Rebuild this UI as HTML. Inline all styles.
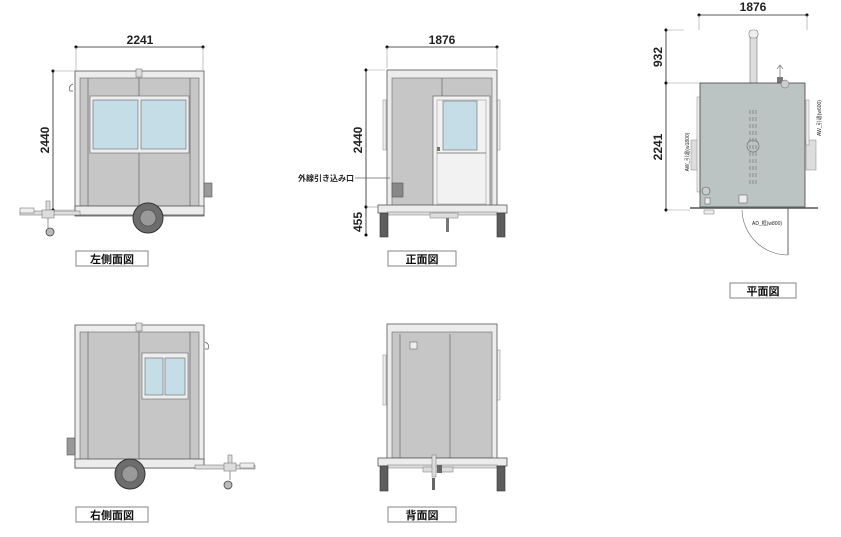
<!DOCTYPE html>
<html><head><meta charset="utf-8"><style>
html,body{margin:0;padding:0;background:#fff;}
svg{display:block;}
text{font-family:"Liberation Sans","Noto Sans CJK JP",sans-serif;}
.dim{stroke:#222;stroke-width:0.8;fill:none;}
.ext{stroke:#999;stroke-width:0.6;}
.fr{fill:#ececec;stroke:#555;stroke-width:0.8;}
.wl{fill:#c6c6c6;stroke:#666;stroke-width:0.6;}
.gl{fill:#c4dde6;stroke:#666;stroke-width:0.6;}
.ln{stroke:#666;stroke-width:0.7;}
.lbl{fill:#fff;stroke:#666;stroke-width:0.8;}
.big{font-size:12px;font-weight:bold;fill:#222;}
.cap{font-size:11px;font-weight:bold;fill:#111;}
.tiny{font-size:5px;fill:#222;}
</style></head><body>
<svg width="841" height="537" viewBox="0 0 841 537" xmlns="http://www.w3.org/2000/svg">

<!-- ===== LEFT SIDE VIEW ===== -->
<g>
<line class="dim" x1="76" y1="47" x2="203" y2="47"/>
<circle cx="76" cy="47" r="1.5"/><circle cx="203" cy="47" r="1.5"/>
<line class="ext" x1="76" y1="47" x2="76" y2="70"/><line class="ext" x1="203" y1="47" x2="203" y2="70"/>
<text class="big" x="140" y="44" text-anchor="middle">2241</text>
<line class="dim" x1="53" y1="71" x2="53" y2="210"/>
<circle cx="53" cy="71" r="1.5"/><circle cx="53" cy="210" r="1.5"/>
<line class="ext" x1="53" y1="71" x2="75" y2="71"/><line class="ext" x1="53" y1="210" x2="75" y2="210"/>
<text class="big" transform="translate(49,140) rotate(-90)" text-anchor="middle">2440</text>
<path d="M73 84 q-5 2 -3 7 h3" fill="none" stroke="#555" stroke-width="0.7"/>
<rect class="fr" x="75" y="71" width="129" height="145"/>
<rect class="wl" x="80" y="78" width="119" height="128"/>
<rect x="136" y="69" width="6" height="8" fill="#ddd" stroke="#666" stroke-width="0.5"/>
<line class="ln" x1="88" y1="78" x2="88" y2="206"/><line class="ln" x1="139" y1="78" x2="139" y2="206"/><line class="ln" x1="190" y1="78" x2="190" y2="206"/>
<rect x="90" y="96" width="99" height="57" fill="#eee" stroke="#666" stroke-width="0.6"/>
<rect class="gl" x="93" y="100" width="45" height="49"/><rect class="gl" x="141" y="100" width="45" height="49"/>
<rect x="204" y="183" width="8" height="14" fill="#999" stroke="#555" stroke-width="0.6"/>
<rect class="fr" x="75" y="206" width="129" height="9"/>
<rect x="20" y="211" width="60" height="4" fill="#ddd" stroke="#666" stroke-width="0.5"/>
<rect x="20" y="208" width="14" height="5" fill="#eee" stroke="#666" stroke-width="0.5"/>
<rect x="46" y="201" width="4" height="12" fill="#ddd" stroke="#666" stroke-width="0.5"/>
<rect x="42" y="210" width="12" height="8" fill="#ddd" stroke="#666" stroke-width="0.5"/>
<circle cx="50" cy="232" r="4" fill="#bbb" stroke="#444" stroke-width="0.8"/>
<line class="ln" x1="48" y1="218" x2="48" y2="228"/>
<circle cx="148" cy="218" r="15" fill="#6d6d6d" stroke="#333"/>
<circle cx="148" cy="218" r="8" fill="#999" stroke="#444" stroke-width="0.6"/>
<rect class="lbl" x="76" y="251" width="72" height="15"/>
<text class="cap" x="112" y="263" text-anchor="middle">左側面図</text>
</g>

<!-- ===== FRONT VIEW ===== -->
<g>
<line class="dim" x1="387" y1="47" x2="497" y2="47"/>
<circle cx="387" cy="47" r="1.5"/><circle cx="497" cy="47" r="1.5"/>
<line class="ext" x1="387" y1="47" x2="387" y2="68"/><line class="ext" x1="497" y1="47" x2="497" y2="68"/>
<text class="big" x="442" y="44" text-anchor="middle">1876</text>
<line class="dim" x1="366" y1="70" x2="366" y2="235"/>
<circle cx="366" cy="70" r="1.5"/><circle cx="366" cy="207" r="1.5"/><circle cx="366" cy="235" r="1.5"/>
<line class="ext" x1="366" y1="70" x2="385" y2="70"/><line class="ext" x1="366" y1="207" x2="380" y2="207"/>
<text class="big" transform="translate(362,140) rotate(-90)" text-anchor="middle">2440</text>
<text class="big" transform="translate(362,222) rotate(-90)" text-anchor="middle">455</text>
<rect x="383" y="100" width="3" height="50" fill="#eee" stroke="#888" stroke-width="0.5"/>
<rect x="497" y="100" width="3" height="50" fill="#eee" stroke="#888" stroke-width="0.5"/>
<rect class="fr" x="387" y="70" width="110" height="142"/>
<rect class="wl" x="392" y="78" width="100" height="128"/>
<line class="ln" x1="442" y1="78" x2="442" y2="96"/>
<rect x="433" y="96" width="57" height="110" fill="#f2f2f2" stroke="#666" stroke-width="0.7"/>
<rect x="437" y="100" width="49" height="104" fill="none" stroke="#888" stroke-width="0.5"/>
<rect class="gl" x="443" y="101" width="34" height="49"/>
<line class="ln" x1="437" y1="153" x2="486" y2="153"/>
<rect x="437" y="147" width="3" height="4" fill="#777"/>
<rect x="392" y="183" width="11" height="14" fill="#888" stroke="#555" stroke-width="0.6"/>
<text x="298" y="181" style="font-size:8px;font-weight:bold;fill:#222">外線引き込み口</text>
<line class="ln" x1="355" y1="178" x2="390" y2="178"/>
<rect class="fr" x="378" y="205" width="129" height="8"/>
<rect x="387" y="212" width="110" height="3" fill="#ddd" stroke="#777" stroke-width="0.5"/>
<rect x="430" y="213" width="28" height="5" fill="#ddd" stroke="#777" stroke-width="0.5"/>
<rect x="380" y="213" width="8" height="24" fill="#5d5d5d" stroke="#333" stroke-width="0.6"/>
<rect x="497" y="213" width="8" height="24" fill="#5d5d5d" stroke="#333" stroke-width="0.6"/>
<rect x="446" y="218" width="3" height="14" fill="#777"/>
<rect class="lbl" x="388" y="251" width="68" height="15"/>
<text class="cap" x="422" y="263" text-anchor="middle">正面図</text>
</g>

<!-- ===== PLAN VIEW ===== -->
<g>
<line class="dim" x1="699" y1="15" x2="807" y2="15"/>
<circle cx="699" cy="15" r="1.5"/><circle cx="807" cy="15" r="1.5"/>
<line class="ext" x1="699" y1="15" x2="699" y2="30"/><line class="ext" x1="807" y1="15" x2="807" y2="30"/>
<text class="big" x="753" y="11" text-anchor="middle">1876</text>
<line class="dim" x1="666" y1="30" x2="666" y2="210"/>
<circle cx="666" cy="30" r="1.5"/><circle cx="666" cy="83" r="1.5"/><circle cx="666" cy="210" r="1.5"/>
<line class="ext" x1="666" y1="30" x2="684" y2="30"/><line class="ext" x1="666" y1="83" x2="700" y2="83"/><line class="ext" x1="666" y1="210" x2="690" y2="210"/>
<text class="big" transform="translate(662,57) rotate(-90)" text-anchor="middle">932</text>
<text class="big" transform="translate(662,147) rotate(-90)" text-anchor="middle">2241</text>
<rect x="750" y="36" width="7" height="48" fill="#ddd" stroke="#777" stroke-width="0.6"/>
<rect x="749" y="30" width="9" height="8" rx="3" fill="#eee" stroke="#777" stroke-width="0.6"/>
<line class="ln" x1="780" y1="66" x2="780" y2="78"/><path d="M777 69 L780 65 L783 69" fill="none" stroke="#555" stroke-width="0.6"/>
<rect x="777" y="77" width="6" height="6" fill="#777"/>
<rect x="691" y="140" width="10" height="30" fill="#ddd" stroke="#888" stroke-width="0.5"/>
<rect x="806" y="140" width="10" height="30" fill="#ddd" stroke="#888" stroke-width="0.5"/>
<rect x="697" y="97" width="3" height="95" fill="#eee" stroke="#888" stroke-width="0.5"/>
<rect x="806" y="100" width="3" height="45" fill="#eee" stroke="#888" stroke-width="0.5"/>
<rect x="700" y="83" width="105" height="124" fill="#bcc3c3" stroke="#444" stroke-width="0.8"/>
<g stroke="#666" stroke-width="0.6" stroke-dasharray="4,3">
<line x1="750" y1="110" x2="750" y2="185"/><line x1="753" y1="110" x2="753" y2="185"/><line x1="756" y1="110" x2="756" y2="185"/>
</g>
<circle cx="753" cy="146" r="6" fill="none" stroke="#666" stroke-width="0.6"/>
<circle cx="785" cy="84" r="4" fill="#ccc" stroke="#666" stroke-width="0.5"/>
<circle cx="706" cy="191" r="4" fill="#ccc" stroke="#555" stroke-width="0.6"/>
<rect x="705" y="198" width="5" height="6" fill="#eee" stroke="#555" stroke-width="0.5"/>
<rect x="739" y="195" width="8" height="8" fill="#eee" stroke="#555" stroke-width="0.5"/>
<line x1="690" y1="208" x2="818" y2="208" stroke="#555" stroke-width="1.4"/>
<rect x="704" y="210" width="10" height="4" fill="#eee" stroke="#777" stroke-width="0.5"/>
<line x1="788" y1="208" x2="788" y2="255" stroke="#555" stroke-width="0.9"/>
<path d="M742 210 A46 46 0 0 0 788 255" fill="none" stroke="#666" stroke-width="0.6"/>
<text class="tiny" transform="translate(689,152) rotate(-90)" text-anchor="middle">AW_引違(w1800)</text>
<text class="tiny" transform="translate(821,118) rotate(-90)" text-anchor="middle">AW_引違(w600)</text>
<text class="tiny" x="752" y="225">AD_框(w800)</text>
<rect class="lbl" x="730" y="283" width="66" height="15"/>
<text class="cap" x="763" y="295" text-anchor="middle">平面図</text>
</g>

<!-- ===== RIGHT SIDE VIEW ===== -->
<g>
<path d="M205 342 q5 2 3 7 h-3" fill="none" stroke="#555" stroke-width="0.7"/>
<rect class="fr" x="75" y="325" width="129" height="143"/>
<rect class="wl" x="80" y="332" width="119" height="128"/>
<rect x="136" y="323" width="6" height="8" fill="#ddd" stroke="#666" stroke-width="0.5"/>
<line class="ln" x1="88" y1="332" x2="88" y2="460"/><line class="ln" x1="139" y1="332" x2="139" y2="460"/><line class="ln" x1="190" y1="332" x2="190" y2="460"/>
<rect x="142" y="353" width="46" height="46" fill="#eee" stroke="#666" stroke-width="0.6"/>
<rect class="gl" x="145" y="358" width="18" height="37"/><rect class="gl" x="165" y="358" width="20" height="37"/>
<rect x="67" y="438" width="8" height="17" fill="#999" stroke="#555" stroke-width="0.6"/>
<rect class="fr" x="75" y="459" width="129" height="9"/>
<rect x="195" y="465" width="60" height="4" fill="#ddd" stroke="#666" stroke-width="0.5"/>
<rect x="240" y="463" width="14" height="5" fill="#eee" stroke="#666" stroke-width="0.5"/>
<rect x="228" y="455" width="4" height="12" fill="#ddd" stroke="#666" stroke-width="0.5"/>
<rect x="224" y="463" width="12" height="8" fill="#ddd" stroke="#666" stroke-width="0.5"/>
<line class="ln" x1="230" y1="471" x2="230" y2="480"/>
<circle cx="228" cy="485" r="4" fill="#bbb" stroke="#444" stroke-width="0.8"/>
<circle cx="130" cy="474" r="15" fill="#6d6d6d" stroke="#333"/>
<circle cx="130" cy="474" r="8" fill="#999" stroke="#444" stroke-width="0.6"/>
<rect class="lbl" x="76" y="507" width="72" height="15"/>
<text class="cap" x="112" y="519" text-anchor="middle">右側面図</text>
</g>

<!-- ===== BACK VIEW ===== -->
<g>
<rect x="383" y="355" width="3" height="50" fill="#eee" stroke="#888" stroke-width="0.5"/>
<rect x="497" y="350" width="3" height="50" fill="#eee" stroke="#888" stroke-width="0.5"/>
<rect class="fr" x="387" y="324" width="110" height="139"/>
<rect class="wl" x="392" y="332" width="100" height="126"/>
<line class="ln" x1="400" y1="334" x2="400" y2="458"/><line class="ln" x1="450" y1="334" x2="450" y2="458"/>
<rect x="410" y="342" width="7" height="7" fill="#eee" stroke="#555" stroke-width="0.5"/>
<rect class="fr" x="378" y="458" width="129" height="8"/>
<rect x="387" y="465" width="110" height="3" fill="#ddd" stroke="#777" stroke-width="0.5"/>
<rect x="423" y="467" width="30" height="5" fill="#ddd" stroke="#777" stroke-width="0.5"/>
<rect x="432" y="455" width="4" height="22" fill="#ddd" stroke="#777" stroke-width="0.5"/>
<rect x="437" y="465" width="5" height="8" fill="#666"/>
<rect x="432" y="478" width="3" height="12" fill="#666"/>
<rect x="380" y="466" width="8" height="25" fill="#5d5d5d" stroke="#333" stroke-width="0.6"/>
<rect x="497" y="466" width="8" height="25" fill="#5d5d5d" stroke="#333" stroke-width="0.6"/>
<rect class="lbl" x="388" y="507" width="68" height="15"/>
<text class="cap" x="422" y="519" text-anchor="middle">背面図</text>
</g>
</svg>
</body></html>
